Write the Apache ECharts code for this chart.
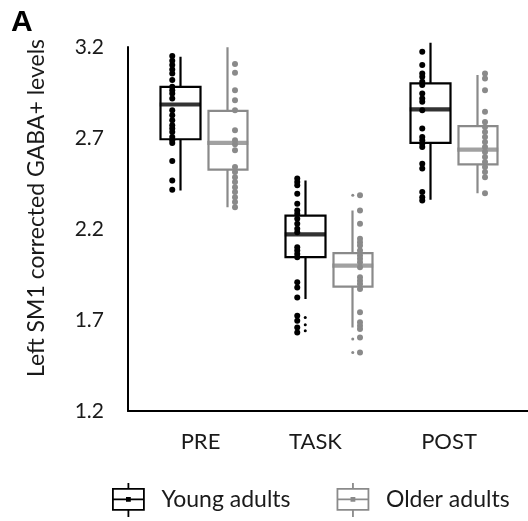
<!DOCTYPE html>
<html>
<head>
<meta charset="utf-8">
<script src="https://cdn.jsdelivr.net/npm/echarts@6/dist/echarts.min.js"></script>
<style>
  html, body { margin: 0; padding: 0; background: #fff; }
  #chart { width: 528px; height: 521px; }
</style>
</head>
<body>
<div id="chart"></div>
<script>
// phases on the x axis
const phases = ['PRE', 'TASK', 'POST'];
const yTicks = [1.2, 1.7, 2.2, 2.7, 3.2];

// box stats per phase: [min, q1, median, q3, max]
const youngBox = [
  [2.412, 2.693, 2.884, 2.981, 3.147],
  [1.815, 2.045, 2.170, 2.274, 2.467],
  [2.361, 2.673, 2.857, 3.000, 3.224]
];
const olderBox = [
  [2.320, 2.526, 2.673, 2.849, 3.198],
  [1.659, 1.883, 1.999, 2.067, 2.302],
  [2.397, 2.555, 2.636, 2.765, 3.046]
];

// individual participants
const youngPre = [3.150, 3.125, 3.101, 3.077, 3.055, 3.018, 2.981, 2.963, 2.945, 2.917, 2.853,
  2.825, 2.798, 2.770, 2.752, 2.733, 2.706, 2.688, 2.673, 2.574, 2.467, 2.416];
const youngTask = [2.477, 2.458, 2.440, 2.394, 2.339, 2.302, 2.284, 2.256, 2.229, 2.201, 2.182,
  2.100, 2.082, 2.063, 2.045, 1.907, 1.879, 1.824, 1.723, 1.696, 1.659, 1.631];
const youngPost = [3.174, 3.101, 3.055, 3.036, 3.009, 2.991, 2.945, 2.917, 2.899, 2.853, 2.752,
  2.706, 2.688, 2.669, 2.651, 2.559, 2.532, 2.403, 2.375, 2.357];
const olderPre = [3.202, 3.106, 3.058, 2.963, 2.908, 2.853, 2.743, 2.688, 2.666, 2.633, 2.541,
  2.513, 2.485, 2.458, 2.430, 2.403, 2.375, 2.348, 2.320];
const olderTask = [2.385, 2.302, 2.229, 2.146, 2.127, 2.109, 2.082, 2.054, 2.036, 2.017, 1.990,
  1.935, 1.916, 1.898, 1.871, 1.742, 1.687, 1.668, 1.650, 1.604, 1.521];
const olderPost = [3.055, 3.027, 2.963, 2.844, 2.788, 2.761, 2.733, 2.706, 2.678, 2.651, 2.623,
  2.596, 2.568, 2.541, 2.513, 2.485, 2.397];

// outlier markers
const youngOut = [[], [1.714, 1.674, 1.641], []];
const olderOut = [[], [2.385, 1.595, 1.521], []];

// layout
const BOX_SHIFT = 0.19;
const labelAt = [-0.028, 0.892, 1.96];
const FONT = 'Lato';
const TXT = '#1a1a1a';
const BLACK = '#000';
const GREY = '#8a8a8a';
const ICON = 'path://M0,6H31V27H0Z M15.5,0V6 M15.5,27V34 M0,16.5H31 M14,15H17V18H14Z';

function dots(groups, shift) {
  const out = [];
  groups.forEach((vals, i) => vals.forEach(v => out.push([i + shift, v])));
  return out;
}

function boxSeries(name, boxes, shift, color) {
  return {
    type: 'candlestick',
    name: name,
    barWidth: 40,
    data: boxes.map((b, i) => [i + shift, b[1], b[3], b[0], b[4]]),
    itemStyle: { color: '#fff', color0: '#fff', borderColor: color, borderColor0: color, borderWidth: 2.2 },
    silent: true,
    z: 2
  };
}

function medianSeries(boxes, shift, color) {
  return {
    type: 'scatter',
    symbol: 'rect',
    symbolSize: [41, 4.2],
    data: boxes.map((b, i) => [i + shift, b[2]]),
    itemStyle: { color: color },
    silent: true,
    z: 3
  };
}

function dotSeries(data, size, color) {
  return {
    type: 'scatter',
    symbolSize: size,
    data: data,
    itemStyle: { color: color, opacity: 1 },
    silent: true,
    z: 4
  };
}

const chart = echarts.init(document.getElementById('chart'));
chart.setOption({
  animation: false,
  title: {
    text: 'A', left: 6, top: 3,
    textStyle: { fontFamily: 'Liberation Sans', fontSize: 30, fontWeight: 'bold', color: BLACK }
  },
  grid: { left: 128, right: 0, top: 47, bottom: 110 },
  xAxis: {
    type: 'value', min: -0.608, max: 2.592,
    splitLine: { show: false },
    axisTick: { show: false },
    axisLine: { show: true, onZero: false, lineStyle: { color: BLACK, width: 2 } },
    axisLabel: {
      customValues: labelAt,
      margin: 20,
      fontFamily: FONT, fontSize: 22, color: TXT,
      formatter: function (v) {
        let best = 0;
        labelAt.forEach((p, i) => { if (Math.abs(p - v) < Math.abs(labelAt[best] - v)) best = i; });
        return phases[best];
      }
    }
  },
  yAxis: {
    type: 'value', min: 1.2, max: 3.2,
    splitLine: { show: false },
    axisTick: { show: false },
    axisLine: { show: true, onZero: false, lineStyle: { color: BLACK, width: 2 } },
    axisLabel: {
      customValues: yTicks,
      margin: 24,
      fontFamily: FONT, fontSize: 21, color: TXT,
      formatter: v => v.toFixed(1)
    },
    name: 'Left SM1 corrected GABA+ levels',
    nameLocation: 'middle',
    nameGap: 80,
    nameTextStyle: { fontFamily: FONT, fontSize: 23, color: TXT, padding: [0, 0, 0, 42] }
  },
  legend: {
    left: 107, top: 477,
    itemWidth: 56, itemHeight: 34, itemGap: 46,
    selectedMode: false,
    textStyle: { fontFamily: FONT, fontSize: 23, color: TXT },
    data: [
      { name: 'Young adults', icon: ICON, itemStyle: { color: 'transparent', borderColor: BLACK, borderWidth: 1.8 } },
      { name: 'Older adults', icon: ICON, itemStyle: { color: 'transparent', borderColor: GREY, borderWidth: 1.8 } }
    ]
  },
  series: [
    boxSeries('Young adults', youngBox, -BOX_SHIFT, BLACK),
    boxSeries('Older adults', olderBox, BOX_SHIFT, GREY),
    medianSeries(youngBox, -BOX_SHIFT, BLACK),
    medianSeries(olderBox, BOX_SHIFT, GREY),
    dotSeries(dots([youngPre, youngTask, youngPost], -BOX_SHIFT - 0.064), 6, BLACK),
    dotSeries(dots([olderPre, olderTask, olderPost], BOX_SHIFT + 0.058), 6, GREY),
    dotSeries(dots(youngOut, -BOX_SHIFT), 3, BLACK),
    dotSeries(dots(olderOut, BOX_SHIFT), 3, GREY)
  ]
});
</script>
</body>
</html>
